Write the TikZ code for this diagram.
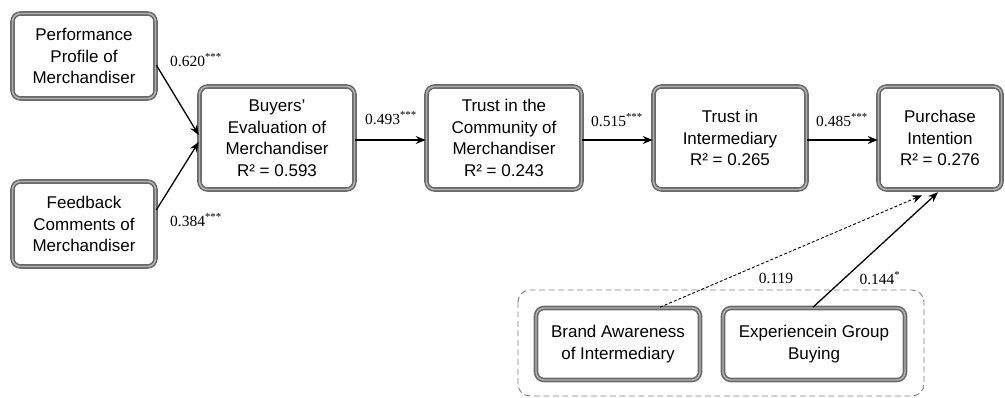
\documentclass[tikz,border=0pt]{standalone}
\usepackage{fontspec}
\setmainfont{Liberation Serif}
\newfontfamily\boxfont{Liberation Sans}
\usetikzlibrary{arrows.meta,calc}
\begin{document}
\begin{tikzpicture}[x=1pt,y=-1pt,
  vbox/.style={draw=black!58, line width=1.6pt, double=black!30, double distance=1.4pt,
    rounded corners=8pt, fill=white,
    align=center, inner sep=0pt, font=\boxfont\fontsize{17}{21.5}\selectfont},
  coef/.style={font=\fontsize{15.5}{18}\selectfont, inner sep=0pt},
  path/.style={line width=1.3pt, -{Stealth[length=10pt,width=8pt]}},
  npath/.style={line width=0.9pt, dash pattern=on 3pt off 2pt, -{Stealth[length=10pt,width=8pt]}},
  grp/.style={draw=black!50, line width=0.9pt, dash pattern=on 6pt off 3.5pt, rounded corners=12pt}
]
\useasboundingbox (0,0) rectangle (1005,398);
\draw[grp] (518,290) rectangle (924,396);

\node[vbox, minimum width=143pt, minimum height=85pt] (perf) at (84,56) {Performance\\Profile of\\Merchandiser};
\node[vbox, minimum width=143pt, minimum height=85pt] (feed) at (84,224) {Feedback\\Comments of\\Merchandiser};
\node[vbox, minimum width=155pt, minimum height=103pt] (buy) at (277,138) {Buyers’\\Evaluation of\\Merchandiser\\R² = 0.593};
\node[vbox, minimum width=155pt, minimum height=103pt] (tcom) at (504,138) {Trust in the\\Community of\\Merchandiser\\R² = 0.243};
\node[vbox, minimum width=153pt, minimum height=103pt] (tint) at (730,138) {Trust in\\Intermediary\\R² = 0.265};
\node[vbox, minimum width=123pt, minimum height=103pt] (purch) at (940,138) {Purchase\\Intention\\R² = 0.276};
\node[vbox, minimum width=164pt, minimum height=72pt] (brand) at (618,344) {Brand Awareness\\of Intermediary};
\node[vbox, minimum width=182pt, minimum height=72pt] (exp) at (814,344) {Experiencein Group\\Buying};

\draw[path] ([yshift=-9pt]perf.east) -- ([yshift=3pt]buy.west);
\draw[path] ([yshift=14pt]feed.east) -- ([yshift=-4pt]buy.west);
\draw[path] ([yshift=-2pt]buy.east) -- ([yshift=-2pt]tcom.west);
\draw[path] ([yshift=-2pt]tcom.east) -- ([yshift=-2pt]tint.west);
\draw[path] ([yshift=-2pt]tint.east) -- ([yshift=-2pt]purch.west);
\draw[npath] ([xshift=42pt]brand.north) -- ([xshift=-18pt,yshift=-5pt]purch.south);
\draw[path] ([xshift=-1pt]exp.north) -- ([xshift=-2pt,yshift=-2pt]purch.south);

\node[coef] (l1) at (196,60) {0.620\textsuperscript{***}};
\node[coef] (l2) at (196,220) {0.384\textsuperscript{***}};
\node[coef] (l3) at (391,118) {0.493\textsuperscript{***}};
\node[coef] (l4) at (617,120) {0.515\textsuperscript{***}};
\node[coef] (l5) at (842,120) {0.485\textsuperscript{***}};
\node[coef] (l6) at (776,278) {0.119};
\node[coef] (l7) at (880,278) {0.144\textsuperscript{*}};
\end{tikzpicture}
\end{document}
